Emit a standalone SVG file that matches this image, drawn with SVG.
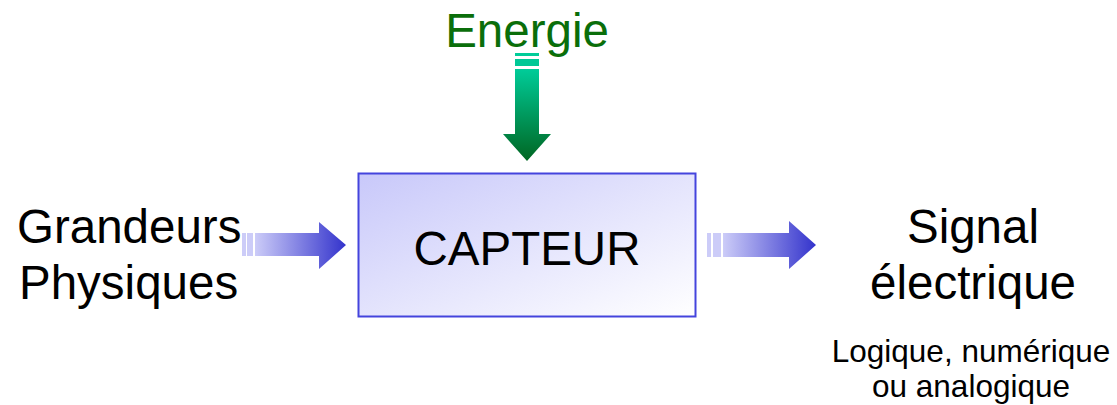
<svg xmlns="http://www.w3.org/2000/svg" width="1117" height="405" viewBox="0 0 1117 405">
<style>
text{font-family:"Liberation Sans",Arial,sans-serif;fill:#000}
.big{font-size:47.5px}
.small{font-size:31.5px}
.mid{text-anchor:middle}
</style>
<defs>
<linearGradient id="gbox" x1="0" y1="0" x2="1" y2="1">
<stop offset="0" stop-color="#c8c8fa"/>
<stop offset="1" stop-color="#ffffff"/>
</linearGradient>
<linearGradient id="gblue" x1="0" y1="0" x2="1" y2="0">
<stop offset="0" stop-color="#ccccf8"/>
<stop offset="1" stop-color="#3333cc"/>
</linearGradient>
<linearGradient id="ggreen" x1="0" y1="0" x2="0" y2="1">
<stop offset="0" stop-color="#00cc99"/>
<stop offset="1" stop-color="#006622"/>
</linearGradient>
</defs>
<g id="capteur">
<rect x="358.5" y="173.5" width="337" height="143" fill="url(#gbox)" stroke="#4444dd" stroke-width="2"/>
<text class="big mid" x="527" y="265">CAPTEUR</text>
</g>
<g id="energie">
<text class="big mid" x="527" y="47" style="fill:#0a6e0a">Energie</text>
</g>
<g id="grandeurs">
<text class="big" x="17" y="243">Grandeurs</text>
<text class="big" x="19" y="299">Physiques</text>
</g>
<g id="signal">
<text class="big mid" x="973" y="243">Signal</text>
<text class="big mid" x="973" y="299">électrique</text>
<text class="small mid" x="971" y="362">Logique, numérique</text>
<text class="small mid" x="971" y="397">ou analogique</text>
</g>
<g id="connectors">
<g fill="url(#ggreen)">
<rect x="515" y="53" width="24" height="3" fill="#00cc99"/>
<rect x="515" y="59" width="24" height="7" fill="#00c896"/>
<path d="M515 69H539V134H551L527 161L503 134H515Z"/>
</g>
<g>
<rect x="242" y="233" width="4" height="23" fill="#ccccf8"/>
<rect x="247" y="233" width="6" height="23" fill="#ccccf8"/>
<path d="M255 233H319V222L346 245L319 269V256H255Z" fill="url(#gblue)"/>
</g>
<g>
<rect x="707" y="233" width="4" height="24" fill="#ccccf8"/>
<rect x="713" y="233" width="8" height="24" fill="#ccccf8"/>
<path d="M723 233H789V221L816 245L789 269V257H723Z" fill="url(#gblue)"/>
</g>
</g>
</svg>
